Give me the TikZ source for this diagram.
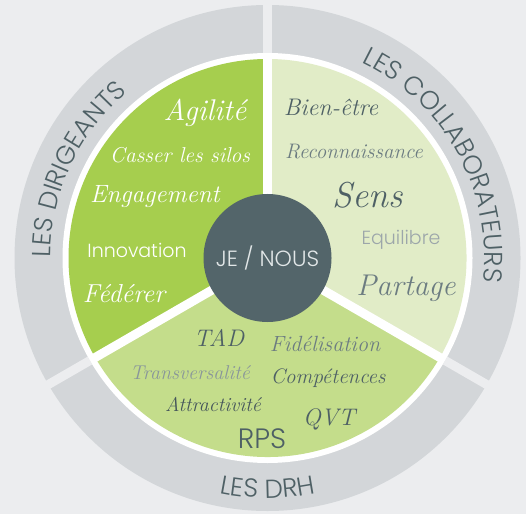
\documentclass[tikz,border=0pt]{standalone}
\usepackage{fontspec}
\usetikzlibrary{decorations.text}
\newfontfamily\thinsans{Poppins}[UprightFont=* Light]
\definecolor{bgcol}{HTML}{ECEDEF}
\definecolor{ringcol}{HTML}{D3D6D9}
\definecolor{dirgreen}{HTML}{A6CE4E}
\definecolor{colgreen}{HTML}{E1ECC7}
\definecolor{drhgreen}{HTML}{C4DD8B}
\definecolor{centre}{HTML}{53656A}
\definecolor{slate}{HTML}{4E6065}
\definecolor{slatelight}{HTML}{6C7C81}
\definecolor{greytext}{HTML}{9CA6AA}
\definecolor{jetext}{HTML}{E2E7E8}
\tikzset{
  script/.style={font=\itshape\fontsize{#1}{#1}\selectfont, inner sep=0pt},
  sans/.style={font=\thinsans\fontsize{#1}{#1}\selectfont, inner sep=0pt},
  ringlabel/.style={decorate, decoration={text along path, text align=center,
    text color=slate, text={|\thinsans\fontsize{26}{26}\selectfont|#1}}}
}
\begin{document}
\begin{tikzpicture}[x=1pt,y=1pt]
\useasboundingbox (0,0) rectangle (526,514);
\fill[bgcol] (0,0) rectangle (526,514);
\coordinate (c) at (267.5,256);
\fill[ringcol] (c) circle[radius=253];
\fill[white] (c) circle[radius=205];
\fill[dirgreen] (c) -- ++(90:199) arc[start angle=90, end angle=210, radius=199] -- cycle;
\fill[colgreen] (c) -- ++(-30:199) arc[start angle=-30, end angle=90, radius=199] -- cycle;
\fill[drhgreen] (c) -- ++(210:199) arc[start angle=210, end angle=330, radius=199] -- cycle;
\foreach \a in {90,210,330} {
  \draw[white, line width=9pt] (c) -- ++(\a:205);
  \draw[bgcol, line width=9pt] (c) ++(\a:205) -- ++(\a:52);
}
\path[ringlabel={LES DIRIGEANTS}] (c) ++(205:217) arc[start angle=205, end angle=105, radius=217];
\path[ringlabel={LES COLLABORATEURS}] (c) ++(90:217) arc[start angle=90, end angle=-32, radius=217];
\path[ringlabel={LES DRH}] (c) ++(230:240) arc[start angle=230, end angle=310, radius=240];
\node[circle, fill=centre, minimum size=128pt, sans=22, text=jetext] (jenous) at (c) {JE / NOUS};

\node[script=30, text=white] (agilite) at (205,401) {Agilité};
\node[script=21.5, text=white] (silos) at (180,359) {Casser les silos};
\node[script=25, text=white] (engagement) at (155,317) {Engagement};
\node[sans=19, text=white] (innovation) at (137,264) {Innovation};
\node[script=26, text=white] (federer) at (124,220) {Fédérer};

\node[script=24, text=slate] (bienetre) at (331,407) {Bien-être};
\node[script=21, text=slatelight] (reconnaissance) at (354,362) {Reconnaissance};
\node[script=36, text=slate] (sens) at (368,319) {Sens};
\node[sans=19, text=greytext] (equilibre) at (401,274) {Equilibre};
\node[script=30, text=slatelight] (partage) at (406,226) {Partage};

\node[script=24, text=slate] (tad) at (219,176) {TAD};
\node[script=22, text=slatelight] (fidelisation) at (325,170) {Fidélisation};
\node[script=20, text=slatelight!80] (transversalite) at (190,141) {Transversalité};
\node[script=21, text=slate] (competences) at (328,136) {Compétences};
\node[script=20, text=slate!90!black] (attractivite) at (213,110) {Attractivité};
\node[script=24, text=slate] (qvt) at (329,95) {QVT};
\node[sans=28, text=slate] (rps) at (262,75) {RPS};
\end{tikzpicture}
\end{document}
